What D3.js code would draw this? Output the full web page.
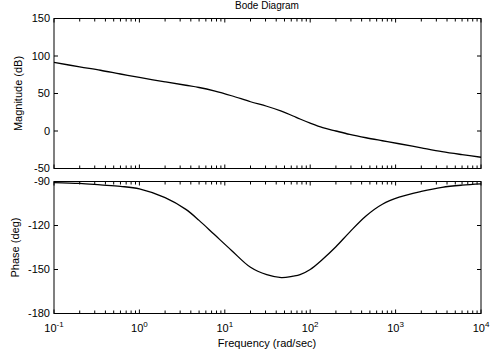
<!DOCTYPE html>
<meta charset="UTF-8">
<style>
body { margin: 0; background: #fff; }
text { font-family: "Liberation Sans", Arial, sans-serif; fill: #000; }
.frame { fill: none; stroke: #000; stroke-width: 1px; }
.curve { fill: none; stroke: #000; stroke-width: 1.3px; }
.tick { stroke: #000; stroke-width: 1px; }
</style>
<body>
<script src="https://d3js.org/d3.v7.min.js"></script>
<script>

// frequency grid (rad/sec)
var freq  = [0.1, 0.2, 0.35, 0.6, 1, 2, 3.5, 5, 7.5, 12, 20, 31, 46, 63, 76, 100, 140, 200, 290, 450, 700, 1100, 2000, 3500, 6000, 10000];
var magDb = [91.5, 85.5, 81, 76, 71.5, 65.5, 61, 58, 53.5, 47, 39, 33, 26.5, 20, 16, 10.5, 4.5, 0, -4.5, -9, -13, -17, -22.5, -27.5, -31.5, -35];
var phase = [-90.7, -91.3, -92.3, -93.3, -95, -101, -109, -116.5, -126, -137, -148.5, -153.5, -155.5, -154.5, -153.5, -150, -143, -134.5, -124.5, -113.5, -105.5, -100.7, -96.8, -94, -92.5, -91.6];

var magTicks = [-50, 0, 50, 100, 150];
var phaseTicks = [-180, -150, -120, -90];
var decades = [-1, 0, 1, 2, 3, 4];

var W = 500, H = 356;
var left = 54, right = 481;
var top1 = 18.5, bot1 = 168.5;
var top2 = 181.5, bot2 = 313.5;

var svg = d3.select("body").append("svg")
    .attr("width", W)
    .attr("height", H);

var x = d3.scaleLog().domain([0.1, 10000]).range([left, right]);
var yMag = d3.scaleLinear().domain([-50, 150]).range([bot1, top1]);
var yPh = d3.scaleLinear().domain([-180, -90]).range([bot2, top2]);

// minor + major log ticks
var minor = [];
decades.forEach(function(e) {
  for (var k = 1; k < 10; k++) {
    var v = k * Math.pow(10, e);
    if (v <= 10000) minor.push({v: v, major: k == 1});
  }
});

function panel(yScale, yTicks, yTop, yBot, data) {
  var g = svg.append("g");

  // x ticks top and bottom, pointing inward
  minor.forEach(function(t) {
    var len = t.major ? 4 : 3;
    g.append("line").attr("class", "tick")
      .attr("x1", x(t.v)).attr("x2", x(t.v))
      .attr("y1", yBot).attr("y2", yBot - len);
    g.append("line").attr("class", "tick")
      .attr("x1", x(t.v)).attr("x2", x(t.v))
      .attr("y1", yTop).attr("y2", yTop + len);
  });

  // y ticks left and right
  yTicks.forEach(function(v) {
    g.append("line").attr("class", "tick")
      .attr("x1", left).attr("x2", left + 4)
      .attr("y1", yScale(v)).attr("y2", yScale(v));
    g.append("line").attr("class", "tick")
      .attr("x1", right).attr("x2", right - 4)
      .attr("y1", yScale(v)).attr("y2", yScale(v));
    g.append("text")
      .attr("x", left - 4)
      .attr("y", yScale(v))
      .attr("dy", "0.35em")
      .attr("text-anchor", "end")
      .style("font-size", "11px")
      .text(v);
  });

  g.append("rect").attr("class", "frame")
    .attr("x", left).attr("y", yTop)
    .attr("width", right - left).attr("height", yBot - yTop);

  var line = d3.line()
    .x(function(d, i) { return x(freq[i]); })
    .y(function(d) { return yScale(d); })
    .curve(d3.curveCatmullRom);

  g.append("path").attr("class", "curve")
    .datum(data)
    .attr("d", line);
}

panel(yMag, magTicks, top1, bot1, magDb);
panel(yPh, phaseTicks, top2, bot2, phase);

// x tick labels 10^n
decades.forEach(function(e) {
  var t = svg.append("text")
    .attr("x", x(Math.pow(10, e)))
    .attr("y", 332)
    .attr("text-anchor", "middle")
    .style("font-size", "11px");
  t.append("tspan").text("10");
  t.append("tspan")
    .attr("dy", -5)
    .style("font-size", "8px")
    .text(e);
});

svg.append("text")
  .attr("x", 267).attr("y", 9)
  .attr("text-anchor", "middle")
  .style("font-size", "10px")
  .text("Bode Diagram");

svg.append("text")
  .attr("x", 267).attr("y", 347)
  .attr("text-anchor", "middle")
  .style("font-size", "11px")
  .text("Frequency  (rad/sec)");

svg.append("text")
  .attr("transform", "translate(22," + (top1 + bot1) / 2 + ") rotate(-90)")
  .attr("text-anchor", "middle")
  .style("font-size", "11px")
  .text("Magnitude (dB)");

svg.append("text")
  .attr("transform", "translate(19," + (top2 + bot2) / 2 + ") rotate(-90)")
  .attr("text-anchor", "middle")
  .style("font-size", "11px")
  .text("Phase (deg)");

</script>
</body>
